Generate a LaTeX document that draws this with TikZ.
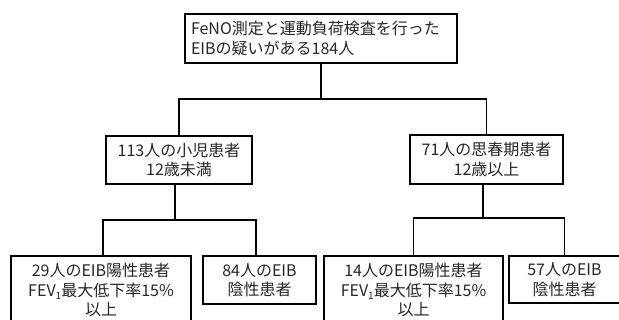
\documentclass[tikz,border=0pt]{standalone}
\usepackage{fontspec}
\setmainfont{Noto Sans CJK JP}
\tikzset{
  box/.style={draw=black, line width=1.8pt, inner sep=0pt, align=center,
              font=\fontsize{16}{19.5}\selectfont, text=black!85},
  conn/.style={draw=black, line width=1.4pt},
}
\newcommand{\fevone}{FEV\raisebox{-0.35ex}{\fontsize{10}{10}\selectfont 1}}
\begin{document}
\begin{tikzpicture}[x=1pt,y=-1pt]
\useasboundingbox (0,0) rectangle (619,320);
\clip (0,0) rectangle (619,320);
\node[box, minimum width=272pt, minimum height=49pt, text width=260pt, align=left] (top) at (321,38.5)
  {FeNO測定と運動負荷検査を行った\\EIBの疑いがある184人};
\node[box, minimum width=146pt, minimum height=48pt] (ml) at (179,160)
  {113人の小児患者\\12歳未満};
\node[box, minimum width=153pt, minimum height=49pt] (mr) at (486.5,159.5)
  {71人の思春期患者\\12歳以上};
\node[box, minimum width=180pt, minimum height=68pt] (b29) at (101,290)
  {29人のEIB陽性患者\\\fevone 最大低下率15\%\\以上};
\node[box, minimum width=113pt, minimum height=48pt] (b84) at (259.5,280)
  {84人のEIB\\陰性患者};
\node[box, minimum width=179pt, minimum height=68pt] (b14) at (413.5,290)
  {14人のEIB陽性患者\\\fevone 最大低下率15\%\\以上};
\node[box, minimum width=111pt, minimum height=47pt] (b57) at (564.5,279.5)
  {57人のEIB\\陰性患者};
\coordinate (j1) at (321,99);
\coordinate (j2) at (175,220);
\coordinate (j3) at (483,218);
\draw[conn] (top.south) -- (j1);
\draw[conn] (ml.north) |- (j1) -| (mr.north);
\draw[conn] (j2 |- ml.south) -- (j2);
\draw[conn] ([xshift=2pt]b29.north) |- (j2) -| ([xshift=-3.5pt]b84.north);
\draw[conn] (j3 |- mr.south) -- (j3);
\draw[conn] (b14.north) |- (j3) -| (b57.north);
\end{tikzpicture}
\end{document}
